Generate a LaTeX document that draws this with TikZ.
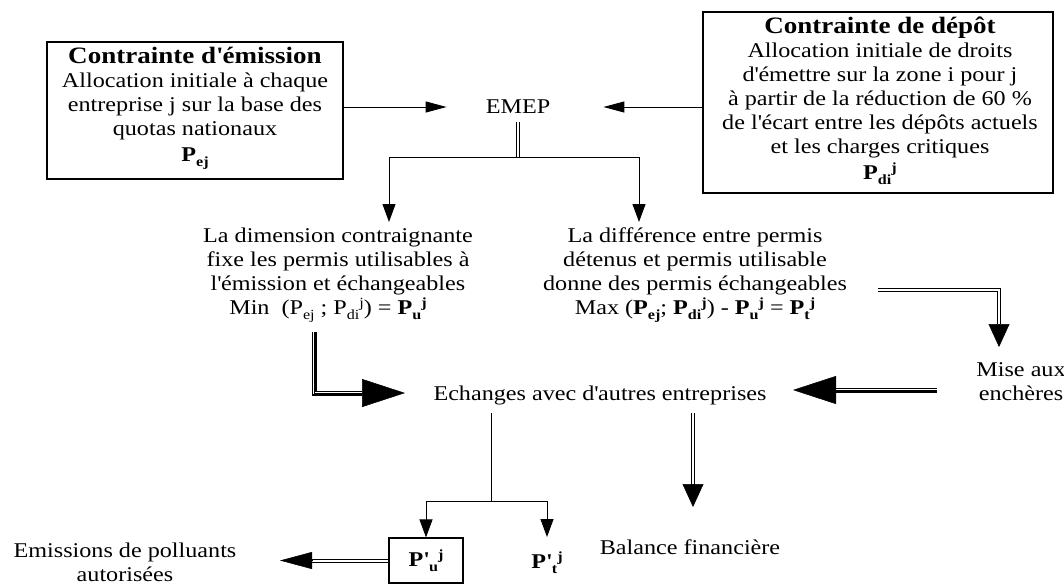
\documentclass[tikz,border=0pt]{standalone}
\usepackage{fontspec}
\setmainfont{Liberation Serif}[FakeStretch=1.15]
\usetikzlibrary{arrows.meta}
\newcommand\mysub[1]{\raisebox{-5pt}{\fontsize{14}{14}\selectfont #1}}
\newcommand\mysup[1]{\raisebox{7pt}{\fontsize{14}{14}\selectfont #1}}
\newcommand\ap{\textquotesingle}
\begin{document}
\begin{tikzpicture}[x=1pt,y=-1pt,
  txt/.style={font=\fontsize{21}{24}\selectfont, align=center, inner sep=0pt},
  frame/.style={draw, line width=1.2pt, inner sep=0pt},
  thin/.style={line width=1pt},
  sarrow/.style={-{Triangle[length=18pt,width=13pt]}},
  earrow/.style={-{Triangle[length=21pt,width=11pt]}},
  dblthin/.style={double, line width=0.8pt, double distance=1.6pt},
  dbl/.style={double, line width=1pt, double distance=2pt},
  tri/.style={line width=0.7pt, preaction={draw, double=white, line width=1.1pt, double distance=2.8pt}},
  headbig/.style={line width=0.5pt, -{Triangle[length=43pt,width=28pt]}},
  headmid/.style={line width=0.5pt, -{Triangle[length=23pt,width=21pt]}},
  headem/.style={line width=0.5pt, -{Triangle[length=32pt,width=17pt]}}
]
\useasboundingbox (0,0) rectangle (1064,584);

% upper boxes
\node[frame, minimum width=296pt, minimum height=137pt] (boxE) at (195,110.5) {};
\node[txt, anchor=north] (txtE) at (195,47)
  {{\fontsize{23.5}{24}\selectfont\bfseries Contrainte d\ap émission}\\
   Allocation initiale à chaque\\
   entreprise j sur la base des\\
   quotas nationaux\\[2pt]
   \textbf{P}\mysub{\textbf{ej}}};

\node[frame, minimum width=350pt, minimum height=181pt] (boxD) at (878,102.5) {};
\node[txt, anchor=north] (txtD) at (880,17)
  {{\fontsize{23.5}{24}\selectfont\bfseries Contrainte de dépôt}\\
   Allocation initiale de droits\\
   d\ap émettre sur la zone i pour j\\
   à partir de la réduction de 60 \%\\
   de l\ap écart entre les dépôts actuels\\
   et les charges critiques\\[2pt]
   \textbf{P}\mysub{\textbf{di}}\mysup{\textbf{j}}};

\node[txt] (emep) at (518,107) {EMEP};

\draw[thin, earrow] (boxE.east |- emep) -- ([xshift=-39pt]emep.west);
\draw[thin, earrow] (boxD.west |- emep) -- ([xshift=53pt]emep.east);

% split
\coordinate (split) at (518,157);
\coordinate (lsplit) at (389,157);
\coordinate (rsplit) at (639,157);
\coordinate (tipL) at (389,222);
\coordinate (tipR) at (639,222);
\draw[dblthin] ([yshift=-8pt]emep.south) -- (split);
\draw[thin] (lsplit) -- (rsplit);
\draw[thin, sarrow] (lsplit) -- (tipL);
\draw[thin, sarrow] (rsplit) -- (tipR);

% middle texts
\node[txt, anchor=north] (dimL) at (338,228)
  {La dimension contraignante\\
   fixe les permis utilisables à\\
   l\ap émission et échangeables\\
   Min\ \ (P\mysub{ej} ; P\mysub{di}\mysup{j}) = \textbf{P}\mysub{\textbf{u}}\mysup{\textbf{j}}\hspace*{20pt}};
\node[txt, anchor=north] (difR) at (695,228)
  {La différence entre permis\\
   détenus et permis utilisable\\
   donne des permis échangeables\\
   Max (\textbf{P}\mysub{\textbf{ej}}; \textbf{P}\mysub{\textbf{di}}\mysup{\textbf{j}}) - \textbf{P}\mysub{\textbf{u}}\mysup{\textbf{j}} = \textbf{P}\mysub{\textbf{t}}\mysup{\textbf{j}}};

\node[txt] (ech) at (600,395) {Echanges avec d\ap autres entreprises};
\node[txt] (mise) at (1021,382) {Mise aux\\enchères};
\node[txt] (bal) at (690,547) {Balance financière};
\node[txt] (emis) at (125,562) {Emissions de polluants\\autorisées};
\node[frame, txt, minimum width=74pt, minimum height=45pt] (pu) at (426,560.5)
  {\textbf{P\ap}\mysub{\textbf{u}}\mysup{\textbf{j}}};
\node[txt] (pt) at (547,563) {\textbf{P\ap}\mysub{\textbf{t}}\mysup{\textbf{j}}};

% Min -> Echanges
\coordinate (m0) at (314,332);
\coordinate (m1) at (314,393);
\coordinate (m2) at (362,393);
\coordinate (m3) at (405,393);
\draw[tri] (m0) -- (m1) -- (m2);
\draw[headbig] (m2) -- (m3);

% Mise -> Echanges
\coordinate (e0) at (937,390);
\coordinate (e1) at (836,390);
\coordinate (e2) at (793,390);
\draw[tri] (e0) -- (e1);
\draw[headbig] (e1) -- (e2);

% Max -> Mise
\coordinate (x0) at (878,290);
\coordinate (x1) at (999,290);
\coordinate (x2) at (999,324);
\coordinate (x3) at (999,347);
\draw[dbl] (x0) -- (x1) -- (x2);
\draw[headmid] (x2) -- (x3);

% Echanges -> Balance
\coordinate (b0) at (693,413);
\coordinate (b1) at (693,485);
\coordinate (b2) at (693,507);
\draw[dbl] (b0) -- (b1);
\draw[headmid] (b1) -- (b2);

% Echanges -> P'u, P't
\coordinate (j0) at (491,413);
\coordinate (j1) at (491,501);
\draw[thin] (j0) -- (j1);
\draw[thin] (pu.north |- j1) -- (pt.north |- j1);
\draw[thin, sarrow] (pu.north |- j1) -- (pu.north);
\draw[thin, sarrow] (pt.north |- j1) -- ([yshift=-36pt]pt.north |- j1);

% P'u -> Emissions
\coordinate (p1) at (312,560.5);
\coordinate (p2) at (280,560.5);
\draw[dbl] (pu.west) -- (p1);
\draw[headem] (p1) -- (p2);
\end{tikzpicture}
\end{document}
